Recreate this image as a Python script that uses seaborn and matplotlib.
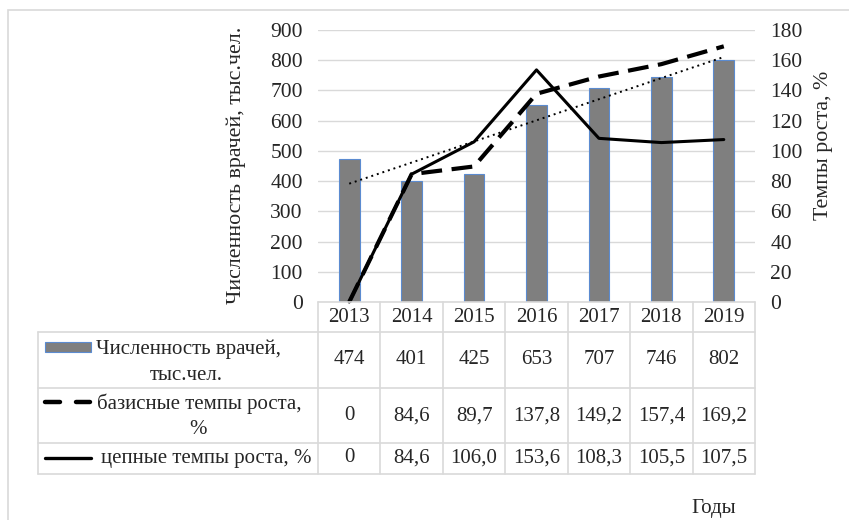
import numpy as np
import pandas as pd
import seaborn as sns
import matplotlib.pyplot as plt
from matplotlib.lines import Line2D
from matplotlib.patches import Rectangle

years = ['2013', '2014', '2015', '2016', '2017', '2018', '2019']
doctors = [474, 401, 425, 653, 707, 746, 802]
base_rate = [0, 84.6, 89.7, 137.8, 149.2, 157.4, 169.2]
chain_rate = [0, 84.6, 106.0, 153.6, 108.3, 105.5, 107.5]
base_text = ['0', '84,6', '89,7', '137,8', '149,2', '157,4', '169,2']
chain_text = ['0', '84,6', '106,0', '153,6', '108,3', '105,5', '107,5']

left_label = 'Численность врачей, тыс.чел.'
right_label = 'Темпы роста, %'

sns.set_theme(style='white')
plt.rcParams['font.family'] = ['Liberation Serif', 'DejaVu Serif']
plt.rcParams['font.size'] = 15

W, H = 849, 520
fig = plt.figure(figsize=(W / 100, H / 100), dpi=100)


def fx(x):
    return x / W


def fy(y):
    return 1 - y / H


grid_c = '#d9d9d9'
# outer frame
fig.patches.append(Rectangle((fx(8), fy(530)), fx(850), fy(10) - fy(530),
                             transform=fig.transFigure, fill=False,
                             edgecolor=grid_c, lw=1.2))

ax = fig.add_axes([fx(318), fy(302), fx(755) - fx(318), fy(30) - fy(302)])

df = pd.DataFrame({'pos': np.arange(len(years)), 'doctors': doctors,
                   'base': base_rate, 'chain': chain_rate})

sns.barplot(data=df, x='pos', y='doctors', native_scale=True, color='#7f7f7f',
            saturation=1, width=0.33, edgecolor='#5b8bd0', linewidth=0.8, ax=ax)
sns.regplot(data=df, x='pos', y='doctors', scatter=False, ci=None, ax=ax,
            line_kws=dict(color='black', ls=(0, (1, 2)), lw=1.4))

ax.set_xlim(-0.5, 6.5)
ax.set_ylim(0, 900)
ax.set_yticks(range(0, 901, 100))
ax.set_xticks([])
ax.yaxis.grid(True, color=grid_c, lw=1)
ax.set_axisbelow(True)
ax.set_xlabel('')
ax.set_ylabel(left_label, fontsize=15.8)
ax.yaxis.set_label_coords(-0.165, 0.504)
ax.tick_params(axis='y', length=0, pad=11, labelsize=15.5)
for s in ax.spines.values():
    s.set_visible(False)

ax2 = ax.twinx()
sns.lineplot(data=df, x='pos', y='base', ax=ax2, color='black', lw=3,
             linestyle=(0, (5, 2.3)), clip_on=False)
sns.lineplot(data=df, x='pos', y='chain', ax=ax2, color='black', lw=2.2,
             clip_on=False)
ax2.set_ylim(0, 180)
ax2.set_yticks(range(0, 181, 20))
ax2.set_xlim(-0.5, 6.5)
ax2.set_ylabel(right_label, fontsize=15.8)
ax2.yaxis.set_label_coords(1.135, 0.577)
ax2.tick_params(axis='y', length=0, pad=11, labelsize=15.5)
for s in ax2.spines.values():
    s.set_visible(False)

# data table under the chart
col_edges = [318 + i * (755 - 318) / 7 for i in range(8)]
row_lines = [332, 388, 443, 474]


def hline(y, x0, x1):
    fig.add_artist(Line2D([fx(x0), fx(x1)], [fy(y), fy(y)],
                          transform=fig.transFigure, color=grid_c, lw=1.2))


def vline(x, y0, y1):
    fig.add_artist(Line2D([fx(x), fx(x)], [fy(y0), fy(y1)],
                          transform=fig.transFigure, color=grid_c, lw=1.2))


hline(302, 318, 755)
for y in row_lines:
    hline(y, 38, 755)
for x in col_edges:
    vline(x, 302, 474)
vline(38, 332, 474)

row_y = [359, 416, 458]
rows = [[str(v) for v in doctors], base_text, chain_text]
for i, yr in enumerate(years):
    cx = (col_edges[i] + col_edges[i + 1]) / 2
    fig.text(fx(cx), fy(317), yr, ha='center', va='center')
    for ry, row in zip(row_y, rows):
        fig.text(fx(cx), fy(ry), row[i], ha='center', va='center')

# legend keys
fig.patches.append(Rectangle((fx(45), fy(352)), fx(91) - fx(45), fy(342) - fy(352),
                             transform=fig.transFigure, facecolor='#7f7f7f',
                             edgecolor='#5b8bd0', lw=0.8))
fig.add_artist(Line2D([fx(45), fx(60)], [fy(402), fy(402)], transform=fig.transFigure,
                      color='black', lw=3.2, solid_capstyle='round'))
fig.add_artist(Line2D([fx(76), fx(90)], [fy(402), fy(402)], transform=fig.transFigure,
                      color='black', lw=3.2, solid_capstyle='round'))
fig.add_artist(Line2D([fx(45), fx(91)], [fy(458), fy(458)], transform=fig.transFigure,
                      color='black', lw=2.4))

fig.text(fx(189), fy(349), 'Численность врачей,', ha='center', va='center')
fig.text(fx(186), fy(375), 'тыс.чел.', ha='center', va='center')
fig.text(fx(199), fy(404), 'базисные темпы роста,', ha='center', va='center')
fig.text(fx(198), fy(429), '%', ha='center', va='center')
fig.text(fx(206), fy(458), 'цепные темпы роста, %', ha='center', va='center')

fig.text(fx(714), fy(509), 'Годы', ha='center', va='center')

fig.savefig('out.png', dpi=100)
